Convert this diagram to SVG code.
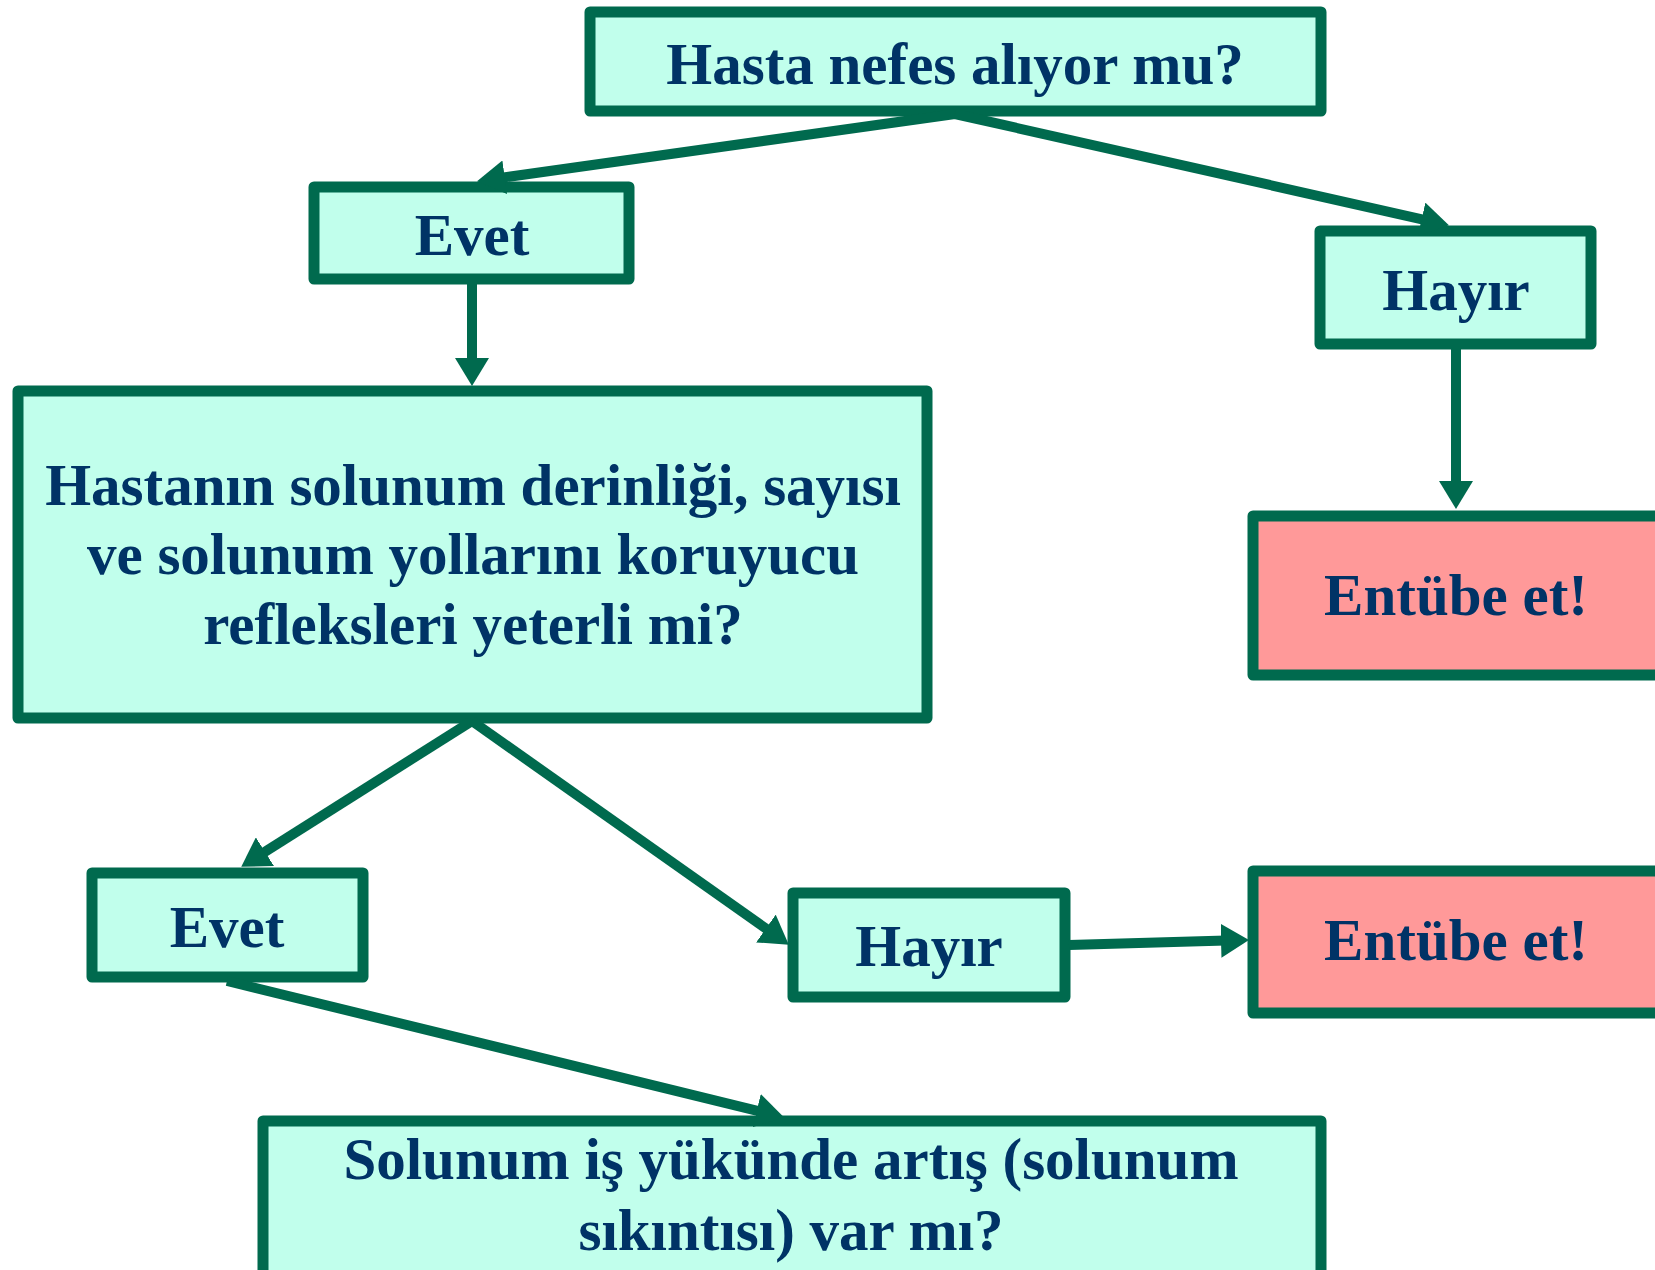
<svg xmlns="http://www.w3.org/2000/svg" width="1655" height="1270" viewBox="0 0 1655 1270">
<style>
.box{fill:#C1FFEC;stroke:#006A4E;stroke-width:11;stroke-linejoin:round}
.red{fill:#FF9999;stroke:#006A4E;stroke-width:11;stroke-linejoin:round}
.t{font-family:"Liberation Serif","Times New Roman",serif;font-weight:bold;font-size:59px;fill:#003366;text-anchor:middle}
.c{fill:none;stroke:#006A4E;stroke-width:10}
</style>
<defs>
<marker id="ah" markerUnits="userSpaceOnUse" markerWidth="30" markerHeight="34" refX="5" refY="17" orient="auto" viewBox="0 0 30 34">
<path d="M0,0 L28,17 L0,34 z" fill="#006A4E"/>
</marker>
</defs>
<rect width="1655" height="1270" fill="#FFFFFF"/>
<g id="n-top">
<rect class="box" x="590" y="12" width="731" height="99"/>
<text class="t" x="955" y="84">Hasta nefes alıyor mu?</text>
</g>
<g id="n-evet1">
<rect class="box" x="314" y="187" width="315" height="92"/>
<text class="t" x="472" y="255">Evet</text>
</g>
<g id="n-hayir1">
<rect class="box" x="1320" y="231" width="271" height="113"/>
<text class="t" x="1456" y="310">Hayır</text>
</g>
<g id="n-entube1">
<rect class="red" x="1253" y="516" width="410" height="159"/>
<text class="t" x="1456" y="615">Entübe et!</text>
</g>
<g id="n-reflex">
<rect class="box" x="18" y="391" width="909" height="327"/>
<text class="t" x="473" y="505">Hastanın solunum derinliği, sayısı</text>
<text class="t" x="473" y="574">ve solunum yollarını koruyucu</text>
<text class="t" x="473" y="644">refleksleri yeterli mi?</text>
</g>
<g id="n-evet2">
<rect class="box" x="92" y="873" width="271" height="104"/>
<text class="t" x="227" y="947">Evet</text>
</g>
<g id="n-hayir2">
<rect class="box" x="793" y="893" width="272" height="104"/>
<text class="t" x="929" y="966">Hayır</text>
</g>
<g id="n-entube2">
<rect class="red" x="1253" y="871" width="410" height="142"/>
<text class="t" x="1456" y="960">Entübe et!</text>
</g>
<g id="n-bottom">
<rect class="box" x="263" y="1121" width="1058" height="160"/>
<text class="t" x="791" y="1179">Solunum iş yükünde artış (solunum</text>
<text class="t" x="791" y="1250">sıkıntısı) var mı?</text>
</g>
<g id="connectors">
<path class="c" d="M955,114 L499.8,178" marker-end="url(#ah)"/>
<path class="c" d="M955,114 L1426.5,220.3" marker-end="url(#ah)"/>
<path class="c" d="M472,284 L472,363" marker-end="url(#ah)"/>
<path class="c" d="M1456,349 L1456,486" marker-end="url(#ah)"/>
<path class="c" d="M472,721 L260.7,854.4" marker-end="url(#ah)"/>
<path class="c" d="M472,721 L770,931.4" marker-end="url(#ah)"/>
<path class="c" d="M1069,945 L1226,940.6" marker-end="url(#ah)"/>
<path class="c" d="M227,981 L761.6,1111.8" marker-end="url(#ah)"/>
</g>
</svg>
